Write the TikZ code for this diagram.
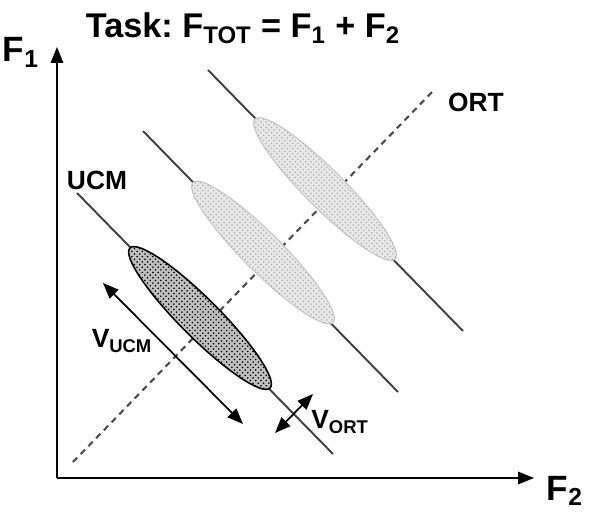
\documentclass[tikz,border=0pt]{standalone}
\usepackage{fontspec}
\setmainfont{Liberation Sans}
\usetikzlibrary{arrows.meta, patterns, shapes.geometric}
\frenchspacing
\def\ix#1{\textsubscript{#1}}

\tikzset{
  lbl/.style={font=\bfseries\fontsize{15}{18}\selectfont},
  axlbl/.style={font=\bfseries\fontsize{20}{24}\selectfont},
  ucmline/.style={line width=1.1pt, black!75},
  blob/.style={ellipse, minimum width=3.96cm, minimum height=0.78cm, rotate=-45, inner sep=0pt},
  darkblob/.style={blob, draw=black, line width=0.9pt, fill=gray!50, postaction={pattern=crosshatch dots, pattern color=black}},
  lightblob/.style={blob, draw=gray!45, line width=0.6pt, fill=gray!18, postaction={pattern=crosshatch dots, pattern color=gray!60}},
  varrow/.style={line width=1pt, {Triangle[length=9pt,width=7pt]}-{Triangle[length=9pt,width=7pt]}},
}

\begin{document}
\begin{tikzpicture}
    \useasboundingbox (0,0) rectangle (12,10.3);

    % axes
    \coordinate (o) at (1.14, 0.74);
    \node[axlbl] (f1) at (0.42, 9.25) {F\ix{1}};
    \node[axlbl] (f2) at (11.3, 0.48) {F\ix{2}};
    \coordinate (ytop) at (1.14, 9.36);
    \coordinate (xend) at (10.68, 0.74);
    \draw[line width=1.1pt, -{Triangle[length=9pt,width=7pt]}] (o) -- (ytop);
    \draw[line width=1.1pt, -{Triangle[length=9pt,width=7pt]}] (o) -- (xend);

    \node[font=\bfseries\fontsize{19.5}{24}\selectfont] (task) at (4.86, 9.74) {Task: F\ix{TOT} = F\ix{1} + F\ix{2}};

    % ORT direction
    \coordinate (ortA) at (1.46, 1.06);
    \coordinate (ortB) at (8.70, 8.52);
    \draw[line width=1.2pt, black!70, dash pattern=on 3.5pt off 2.8pt] (ortA) -- (ortB);
    \node[lbl] (ort) at (9.52, 8.26) {ORT};

    % UCM lines
    \coordinate (ucmA) at (1.54, 6.44);
    \coordinate (ucmB) at (6.66, 1.22);
    \coordinate (midA) at (2.86, 7.68);
    \coordinate (midB) at (7.96, 2.46);
    \coordinate (topA) at (4.16, 8.90);
    \coordinate (topB) at (9.26, 3.68);
    \draw[ucmline] (ucmA) -- (ucmB);
    \draw[ucmline] (midA) -- (midB);
    \draw[ucmline] (topA) -- (topB);
    \node[lbl] (ucm) at (1.94, 6.70) {UCM};

    % distributions
    \node[darkblob] (dark) at (4.00, 3.94) {};
    \node[lightblob] (mid) at (5.26, 5.25) {};
    \node[lightblob] (top) at (6.50, 6.52) {};

    % variances
    \coordinate (vuA) at (2.06, 4.64);
    \coordinate (vuB) at (4.86, 1.82);
    \draw[varrow] (vuA) -- (vuB);
    \node[lbl] (vucm) at (2.44, 3.48) {V\ix{UCM}};
    \coordinate (voA) at (5.50, 1.64);
    \coordinate (voB) at (6.26, 2.42);
    \draw[varrow] (voA) -- (voB);
    \node[lbl, anchor=west, inner sep=0pt] (vort) at (6.22, 1.86) {V\ix{ORT}};
\end{tikzpicture}
\end{document}
